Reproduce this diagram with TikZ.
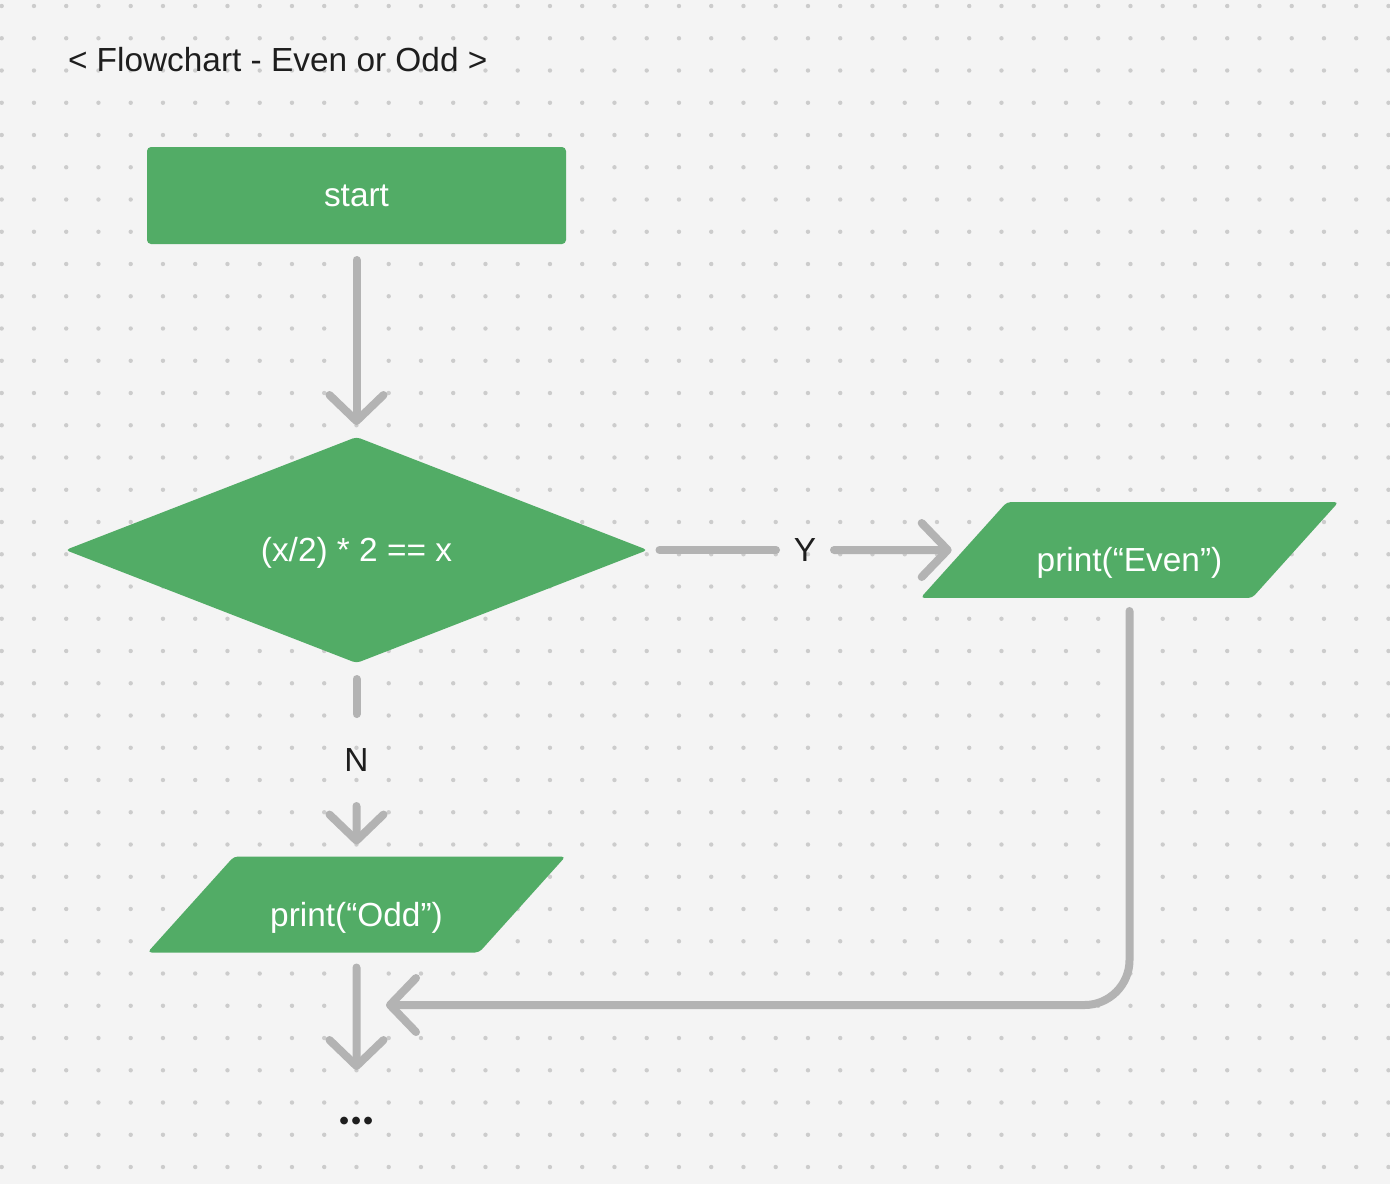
\documentclass[tikz,border=0pt]{standalone}
\usepackage{fontspec}
\setmainfont{Liberation Sans}
\newfontfamily\dotfont{Lato}
\usetikzlibrary{shapes.geometric,arrows.meta}
\definecolor{bggray}{HTML}{F4F4F4}
\definecolor{dotgray}{HTML}{CCCCCC}
\definecolor{boxgreen}{HTML}{52AC66}
\definecolor{arrowgray}{HTML}{B3B3B3}
\definecolor{inkblack}{HTML}{1E1E1E}
\tikzset{
  box/.style={fill=boxgreen,text=white,rounded corners=0.4mm,inner sep=0pt,outer sep=0pt,font=\fontsize{9.5}{11}\selectfont},
  io/.style={box,trapezium,trapezium left angle=48,trapezium right angle=132,trapezium stretches body=true,
    minimum width=41.8mm,text height=19.9pt,text depth=7.4pt},
  flow/.style={draw=arrowgray,line width=0.8mm,line cap=round,line join=round},
  arw/.style={-{Straight Barb[length=2.6mm,width=5.4mm,round]}},
  lab/.style={text=inkblack,inner sep=0pt,outer sep=0pt,font=\fontsize{9.5}{11}\selectfont},
}
\begin{document}
\begin{tikzpicture}[x=0.1mm,y=-0.1mm]
       \fill[bggray](0,0)rectangle(1390,1184);%背景
       \useasboundingbox(0,0)rectangle(1390,1184);
       \foreach \i in{0,...,43}
           \foreach \j in{0,...,36}
               \fill[dotgray](1.7+32.25*\i,6+32.25*\j)circle(0.22mm);%方眼の点

       \node[lab,anchor=west](title)at(68,60){< Flowchart - Even or Odd >};%題

       \node[box,minimum width=41.9mm,minimum height=9.7mm,text height=6.5pt,text depth=0pt](start)at(356.5,195.5){start};%開始
       \node[box,diamond,aspect=2.575,minimum width=58.2mm,minimum height=22.6mm,text height=6.8pt,text depth=0pt](dec)at(356.5,550){(x/2) * 2 == x};%判定
       \node[io](even)at(1129.5,550){print(“Even”)};%偶数
       \node[io](odd)at(356.5,904.5){print(“Odd”)};%奇数
       \node[lab,minimum width=5.8mm](ylab)at(805,550){Y};
       \node[lab,minimum height=9.2mm](nlab)at(356.5,760){N};
       \node[lab,minimum height=5mm,font=\dotfont\bfseries\fontsize{14.5}{14}\selectfont](dots)at(356.5,1121){...};%続き
       \coordinate(mrg)at(386,1005);%合流点

       \draw[flow,arw,shorten <=1.6mm,shorten >=1.2mm](start.south)--(dec.north);
       \draw[flow,shorten <=1.2mm](dec.east)--(ylab.west);%Y
       \draw[flow,arw,shorten >=1.2mm](ylab.east)--(even.west);
       \draw[flow,shorten <=1.6mm](dec.south)--(nlab.north);%N
       \draw[flow,arw,shorten >=1.2mm](nlab.south)--(odd.north);
       \draw[flow,arw,rounded corners=4.5mm,shorten <=1.3mm](even.south)|-(mrg);%偶数から合流
       \draw[flow,arw,shorten <=1.5mm,shorten >=2.6mm](odd.south)--(dots.north);
\end{tikzpicture}
\end{document}
